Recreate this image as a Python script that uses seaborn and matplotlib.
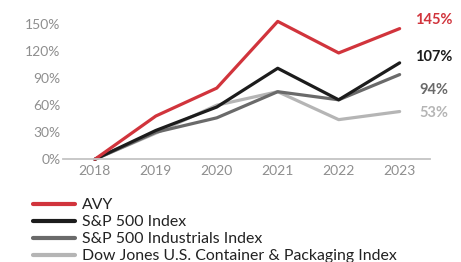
import pandas as pd
import matplotlib.pyplot as plt
import seaborn as sns

years = [2018, 2019, 2020, 2021, 2022, 2023]
avy = [0, 48, 79, 153, 118, 145]
sp500 = [0, 32, 58, 101, 66, 107]
industrials = [0, 30, 46, 75, 66, 94]
dow_jones = [0, 29, 60, 75, 44, 53]

series_names = ["AVY", "S&P 500 Index", "S&P 500 Industrials Index",
                "Dow Jones U.S. Container & Packaging Index"]
end_labels = ["145%", "107%", "94%", "53%"]
colors = ["#d1343c", "#1c1c1c", "#6a6a6a", "#b5b5b5"]

df = pd.DataFrame({
    "Year": years * 4,
    "Return": avy + sp500 + industrials + dow_jones,
    "Series": [n for n in series_names for _ in years],
})

sns.set_theme(style="white")
plt.rcParams["font.family"] = ["Lato", "DejaVu Sans"]

fig = plt.figure(figsize=(4.61, 2.62), dpi=100)
ax = fig.add_axes([0.137, 0.392, 0.796, 0.516])

# draw back to front so AVY ends up on top
order = list(reversed(series_names))
sns.lineplot(data=df, x="Year", y="Return", hue="Series", hue_order=order,
             palette=dict(zip(series_names, colors)), linewidth=2.3,
             legend=False, ax=ax)
for ln in ax.lines:
    ln.set_clip_on(False)

ax.set_xlim(2017.48, 2023.5)
ax.set_ylim(0, 150)
ax.set_xticks(years)
ax.set_yticks([0, 30, 60, 90, 120, 150])
ax.set_yticklabels([f"{v}%" for v in [0, 30, 60, 90, 120, 150]])
ax.set_xlabel("")
ax.set_ylabel("")
ax.tick_params(axis="both", length=0, labelsize=10, labelcolor="#8e8e8e")
ax.tick_params(axis="y", pad=2)
ax.tick_params(axis="x", pad=4)
for side in ["top", "right", "left"]:
    ax.spines[side].set_visible(False)
ax.spines["bottom"].set_color("#c4c4c4")
ax.spines["bottom"].set_linewidth(1.3)

# value labels at the end of each line
positions = [(2023.25, 154), (2023.25, 113), (2023.33, 77), (2023.33, 51)]
for txt, (xv, yv), c in zip(end_labels, positions, colors):
    ax.text(xv, yv, txt, color=c, fontsize=10.5, fontweight="bold",
            ha="left", va="center", clip_on=False)

# legend under the chart
handles = [plt.Line2D([], [], color=c, linewidth=3) for c in colors]
fig.legend(handles, series_names, loc="upper left",
           bbox_to_anchor=(0.072, 0.244), frameon=False, fontsize=11.4,
           handlelength=2.65, handletextpad=0.45, labelspacing=0.19,
           borderaxespad=0, borderpad=0, labelcolor="#222222")

plt.savefig("out.png", dpi=100, facecolor="white")
